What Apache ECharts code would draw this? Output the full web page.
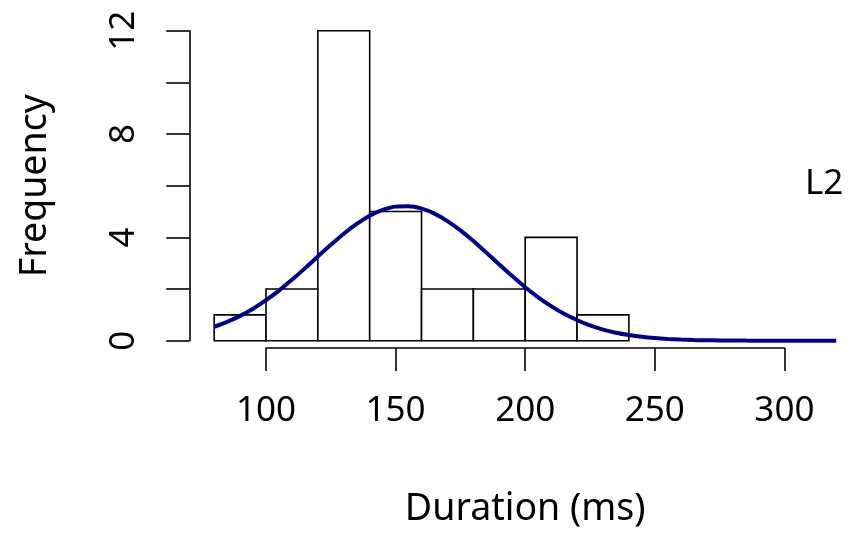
<!DOCTYPE html>
<html>
<head>
<meta charset="utf-8">
<script src="https://cdn.jsdelivr.net/npm/echarts@6/dist/echarts.min.js"></script>
<style>
html,body{margin:0;padding:0;background:#fff;}
#c{width:851px;height:533px;}
</style>
</head>
<body>
<div id="c"></div>
<script>
// Histogram bins (ms) and counts
var binStarts = [80, 100, 120, 140, 160, 180, 200, 220];
var binEnds   = [100, 120, 140, 160, 180, 200, 220, 240];
var counts    = [1, 2, 12, 5, 2, 2, 4, 1];

// Fitted density curve (scaled to frequency)
var curveX = [80,85,90,95,100,105,110,115,120,125,130,135,140,145,150,155,160,165,170,175,180,185,190,195,200,205,210,215,220,225,230,235,240,245,250,255,260,265,270,275,280,285,290,295,300,305,310,315,320];
var curveY = [0.54,0.73,0.96,1.24,1.57,1.94,2.36,2.80,3.26,3.71,4.14,4.52,4.84,5.06,5.19,5.20,5.11,4.92,4.63,4.27,3.86,3.41,2.95,2.50,2.07,1.68,1.34,1.04,0.80,0.59,0.43,0.31,0.22,0.15,0.10,0.066,0.042,0.027,0.017,0.010,0.006,0.003,0.002,0.001,0.0,0.0,0.0,0.0,0.0];

var xTicks = [100, 150, 200, 250, 300];
var yTicks = [0, 4, 8, 12];
var label = 'L2';

var FONT = '"Noto Sans", "Open Sans", sans-serif';
var FS = 35;
var FS_LAB = 37.5;

var histData = binStarts.map(function (s, i) { return [s, binEnds[i], counts[i]]; });
var lineData = curveX.map(function (x, i) { return [x, curveY[i]]; });

var chart = echarts.init(document.getElementById('c'), null, {renderer: 'canvas'});
chart.setOption({
  animation: false,
  backgroundColor: '#ffffff',
  grid: [
    {left: 189.3, top: 18.3, width: 661.7, height: 334.8},
    {left: 266, top: 18.3, width: 518.4, height: 334.8},
    {left: 189.3, top: 30.7, width: 100, height: 310}
  ],
  xAxis: [
    {gridIndex: 0, type: 'value', min: 70.4, max: 325.7, show: false},
    {gridIndex: 1, type: 'value', min: xTicks[0], max: xTicks[xTicks.length - 1], interval: 50,
     splitLine: {show: false},
     axisLine: {show: true, lineStyle: {color: '#000', width: 1.6}},
     axisTick: {show: true, length: 23, lineStyle: {color: '#000', width: 1.6}},
     axisLabel: {color: '#000', fontFamily: FONT, fontSize: FS, margin: 46},
     name: 'Duration (ms)', nameLocation: 'middle', nameGap: 142,
     nameTextStyle: {color: '#000', fontFamily: FONT, fontSize: FS_LAB}
    },
    {gridIndex: 2, type: 'value', show: false}
  ],
  yAxis: [
    {gridIndex: 0, type: 'value', min: -0.48, max: 12.48, show: false},
    {gridIndex: 1, type: 'value', show: false},
    {gridIndex: 2, type: 'value', min: yTicks[0], max: yTicks[yTicks.length - 1], interval: 2,
     splitLine: {show: false},
     axisLine: {show: true, lineStyle: {color: '#000', width: 1.6}},
     axisTick: {show: true, length: 23, lineStyle: {color: '#000', width: 1.6}},
     axisLabel: {color: '#000', fontFamily: FONT, fontSize: FS, margin: 48, rotate: 90,
       formatter: function (v) { return yTicks.indexOf(v) >= 0 ? String(v) : ''; }},
     name: 'Frequency', nameLocation: 'middle', nameGap: 135, nameRotate: 90,
     nameTextStyle: {color: '#000', fontFamily: FONT, fontSize: FS_LAB}
    }
  ],
  graphic: [
    {type: 'text', left: 805, top: 167,
     style: {text: label, fill: '#000', font: FS + 'px ' + FONT}}
  ],
  series: [
    {
      type: 'custom', xAxisIndex: 0, yAxisIndex: 0, data: histData,
      renderItem: function (params, api) {
        var p0 = api.coord([api.value(0), 0]);
        var p1 = api.coord([api.value(1), api.value(2)]);
        return {type: 'rect',
          shape: {x: p0[0], y: p1[1], width: p1[0] - p0[0], height: p0[1] - p1[1]},
          style: {fill: '#fff', stroke: '#000', lineWidth: 1.6}};
      }
    },
    {
      type: 'line', xAxisIndex: 0, yAxisIndex: 0, data: lineData,
      showSymbol: false, smooth: 0.3, clip: false,
      lineStyle: {color: '#00008B', width: 4}
    }
  ]
});
</script>
</body>
</html>
